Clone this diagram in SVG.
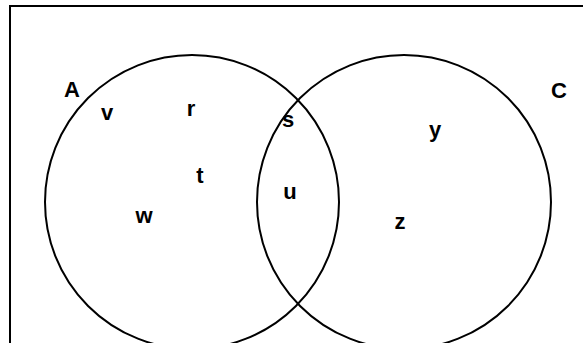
<svg xmlns="http://www.w3.org/2000/svg" width="583" height="343" viewBox="0 0 583 343">
<style>
.set{fill:none;stroke:#000;stroke-width:2}
.lbl{font-family:"Liberation Sans",Arial,sans-serif;font-weight:bold;font-size:22px;fill:#000;text-anchor:middle}
</style>
<rect width="583" height="343" fill="#fff"/>
<path d="M10,343 V6 H583" fill="none" stroke="#000" stroke-width="2"/>
<g id="setA">
<circle class="set" cx="192" cy="202" r="147"/>
<text class="lbl" x="72" y="97">A</text>
</g>
<g id="setC">
<circle class="set" cx="404" cy="202" r="147"/>
<text class="lbl" x="559" y="98">C</text>
</g>
<g id="elements">
<text class="lbl" x="107" y="120">v</text>
<text class="lbl" x="191" y="116">r</text>
<text class="lbl" x="288" y="127">s</text>
<text class="lbl" x="200" y="183">t</text>
<text class="lbl" x="144" y="223">w</text>
<text class="lbl" x="290" y="199">u</text>
<text class="lbl" x="400" y="229">z</text>
<text class="lbl" x="435" y="137">y</text>
</g>
</svg>
